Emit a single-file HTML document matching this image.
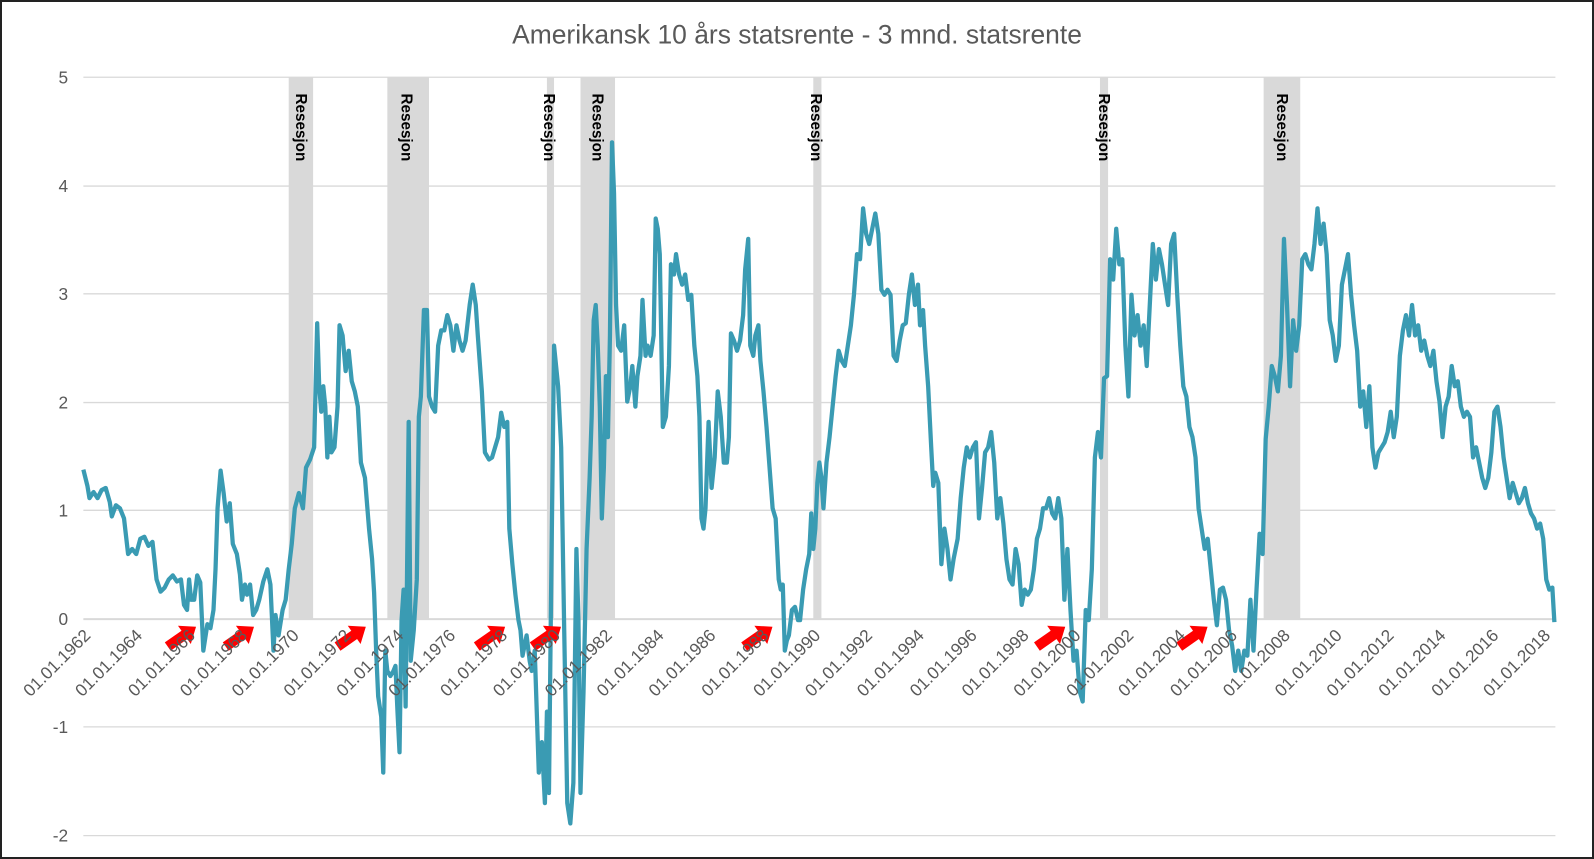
<!DOCTYPE html>
<html><head><meta charset="utf-8"><style>
html,body{margin:0;padding:0;background:#fff}
svg{display:block;font-family:"Liberation Sans",sans-serif}
</style></head><body>
<svg width="1594" height="859" viewBox="0 0 1594 859" xmlns="http://www.w3.org/2000/svg">
<rect x="1" y="1" width="1592" height="857" fill="#fff" stroke="#222" stroke-width="2"/>
<g transform="scale(1.0166)">
<text x="784" y="43" text-anchor="middle" font-size="26" fill="#595959">Amerikansk 10 års statsrente - 3 mnd. statsrente</text>
<g fill="#d9d9d9">
<rect x="284" y="76" width="24" height="533"/>
<rect x="381" y="76" width="41" height="533"/>
<rect x="538" y="76" width="7" height="533"/>
<rect x="571" y="76" width="34" height="533"/>
<rect x="800" y="76" width="8" height="533"/>
<rect x="1082" y="76" width="8" height="533"/>
<rect x="1243" y="76" width="36" height="533"/>
</g>
<g stroke="#d9d9d9" stroke-width="1.3">
<line x1="82" y1="76" x2="1530" y2="76"/><line x1="82" y1="183" x2="1530" y2="183"/>
<line x1="82" y1="289" x2="1530" y2="289"/><line x1="82" y1="396" x2="1530" y2="396"/>
<line x1="82" y1="502" x2="1530" y2="502"/><line x1="82" y1="715" x2="1530" y2="715"/>
<line x1="82" y1="822" x2="1530" y2="822"/>
<line x1="82" y1="609" x2="1530" y2="609" stroke-width="2"/>
</g>
<g font-size="17" fill="#595959" text-anchor="end">
<text x="67" y="82">5</text><text x="67" y="189">4</text><text x="67" y="295">3</text>
<text x="67" y="402">2</text><text x="67" y="508">1</text><text x="67" y="615">0</text>
<text x="67" y="721">-1</text><text x="67" y="828">-2</text>
</g>
<g font-size="15" fill="#000" font-weight="bold">
<text transform="translate(291,92) rotate(90)">Resesjon</text>
<text transform="translate(395,92) rotate(90)">Resesjon</text>
<text transform="translate(535,92) rotate(90)">Resesjon</text>
<text transform="translate(583,92) rotate(90)">Resesjon</text>
<text transform="translate(798,92) rotate(90)">Resesjon</text>
<text transform="translate(1081,92) rotate(90)">Resesjon</text>
<text transform="translate(1256,92) rotate(90)">Resesjon</text>
</g>
<polyline fill="none" stroke="#3a9bb3" stroke-width="4.2" stroke-linejoin="round" points="82,462 86,478 88,490 92,484 96,490 100,482 104,480 108,494 110,508 114,497 118,500 122,510 126,545 130,540 134,545 138,530 142,528 146,537 150,533 154,570 158,582 162,578 166,570 170,566 174,572 178,570 181,595 184,600 186,570 188,590 191,590 194,566 197,573 200,640 204,614 207,618 210,600 212,560 214,500 217,463 220,485 223,513 226,495 229,535 233,545 236,565 238,590 241,575 243,585 246,575 249,605 252,600 255,590 259,572 263,560 266,575 269,640 271,605 274,625 278,600 281,590 284,560 287,535 290,500 294,485 298,500 301,460 305,452 309,440 312,318 314,380 316,405 318,380 320,400 322,450 324,410 326,445 329,440 332,400 334,320 337,330 340,365 343,345 346,375 349,385 352,400 355,455 359,470 363,520 366,550 368,583 370,640 372,685 375,705 377,760 379,640 381,660 384,665 387,660 389,655 391,700 393,740 395,610 397,580 399,695 402,415 404,650 407,620 410,570 412,410 414,390 417,305 420,305 422,390 425,400 428,405 431,340 434,325 437,325 440,310 443,320 446,345 449,320 452,335 455,345 458,335 462,300 465,280 468,300 470,330 474,385 477,445 481,452 484,450 487,440 490,430 493,406 496,420 499,415 501,520 504,555 507,585 510,610 512,620 514,645 516,635 518,625 521,650 523,660 526,640 530,760 533,730 536,790 538,700 540,780 542,590 545,340 547,360 549,380 552,440 555,620 558,790 561,810 564,770 567,540 569,610 571,780 574,680 577,540 580,470 582,410 584,315 586,300 588,340 590,400 592,510 594,460 596,370 598,430 600,330 602,140 604,190 606,300 608,340 611,345 614,320 617,395 620,380 622,360 625,400 627,370 630,350 632,295 635,350 637,340 640,350 643,330 645,215 647,225 649,250 652,420 655,410 658,360 660,260 663,270 665,250 668,270 671,280 674,270 677,295 680,290 683,340 686,370 688,410 690,510 692,520 694,500 697,415 700,480 703,450 706,385 709,410 712,455 715,455 717,430 719,328 722,335 725,345 728,335 731,310 733,265 736,235 738,340 741,350 743,330 746,320 748,355 751,385 754,420 757,460 760,500 763,510 766,570 768,580 770,575 772,640 774,630 776,625 779,600 782,597 785,610 787,610 790,580 793,560 796,545 798,505 800,540 802,520 804,475 806,455 808,470 810,500 813,455 816,430 819,400 822,370 825,345 828,355 831,360 834,340 837,320 840,290 843,250 846,255 849,205 852,230 855,240 858,225 861,210 864,230 867,285 870,290 873,285 876,290 879,350 882,355 885,335 888,320 891,318 894,290 897,270 900,300 903,280 905,320 908,305 910,340 913,380 916,440 918,478 920,465 923,475 926,555 929,520 932,540 935,570 938,550 942,530 945,490 948,460 951,440 954,450 957,440 960,435 963,510 966,480 969,445 972,440 975,425 978,455 981,510 984,490 987,515 990,550 993,570 996,575 999,540 1002,555 1005,595 1008,580 1011,585 1014,580 1017,560 1020,530 1023,520 1026,500 1029,500 1032,490 1035,505 1038,510 1041,490 1044,510 1047,590 1050,540 1053,600 1056,650 1059,640 1062,680 1065,690 1068,600 1071,610 1074,560 1077,450 1080,425 1083,450 1086,372 1089,370 1092,255 1095,275 1098,225 1101,260 1104,255 1107,340 1110,390 1113,290 1116,330 1119,310 1122,340 1125,320 1128,360 1131,300 1134,240 1137,275 1140,245 1143,260 1146,280 1149,300 1152,240 1155,230 1158,290 1161,340 1164,380 1167,390 1170,420 1173,430 1176,450 1179,500 1182,520 1185,540 1188,530 1191,560 1194,590 1197,615 1200,580 1203,578 1206,590 1209,620 1212,635 1215,660 1218,640 1221,660 1224,640 1227,645 1230,590 1233,640 1236,580 1239,525 1242,545 1245,432 1248,400 1251,360 1254,370 1257,385 1260,350 1263,235 1266,300 1269,380 1272,315 1275,345 1278,320 1281,255 1284,250 1287,260 1290,265 1293,240 1296,205 1299,240 1302,220 1305,250 1308,315 1311,330 1314,355 1317,340 1320,280 1323,265 1326,250 1329,290 1332,320 1335,345 1338,400 1341,385 1344,420 1347,380 1350,440 1353,460 1356,445 1359,440 1362,435 1365,425 1368,405 1371,430 1374,410 1377,350 1380,325 1383,310 1386,330 1389,300 1392,330 1395,320 1398,345 1401,335 1404,350 1407,360 1410,345 1413,375 1416,395 1419,430 1422,400 1425,390 1428,360 1431,380 1434,375 1437,400 1440,410 1443,405 1446,410 1449,450 1452,440 1455,455 1458,470 1461,480 1464,470 1467,445 1470,405 1473,400 1476,420 1479,450 1482,470 1485,490 1488,475 1491,485 1494,495 1497,490 1500,480 1503,495 1506,505 1509,510 1512,520 1515,515 1518,530 1521,570 1524,580 1527,578 1529,612"/>
<g fill="#ff0000">
<g transform="translate(165,636) rotate(-35)"><rect x="0" y="-5" width="22" height="10"/><polygon points="20,-11 34,0 20,11"/></g>
<g transform="translate(222,636) rotate(-35)"><rect x="0" y="-5" width="22" height="10"/><polygon points="20,-11 34,0 20,11"/></g>
<g transform="translate(332,636) rotate(-35)"><rect x="0" y="-5" width="22" height="10"/><polygon points="20,-11 34,0 20,11"/></g>
<g transform="translate(469,636) rotate(-35)"><rect x="0" y="-5" width="22" height="10"/><polygon points="20,-11 34,0 20,11"/></g>
<g transform="translate(524,636) rotate(-35)"><rect x="0" y="-5" width="22" height="10"/><polygon points="20,-11 34,0 20,11"/></g>
<g transform="translate(732,636) rotate(-35)"><rect x="0" y="-5" width="22" height="10"/><polygon points="20,-11 34,0 20,11"/></g>
<g transform="translate(1020,636) rotate(-35)"><rect x="0" y="-5" width="22" height="10"/><polygon points="20,-11 34,0 20,11"/></g>
<g transform="translate(1160,636) rotate(-35)"><rect x="0" y="-5" width="22" height="10"/><polygon points="20,-11 34,0 20,11"/></g>
</g>
<g font-size="17" fill="#595959" text-anchor="end">
<text transform="translate(90,626) rotate(-45)">01.01.1962</text>
<text transform="translate(141,626) rotate(-45)">01.01.1964</text>
<text transform="translate(193,626) rotate(-45)">01.01.1966</text>
<text transform="translate(244,626) rotate(-45)">01.01.1968</text>
<text transform="translate(295,626) rotate(-45)">01.01.1970</text>
<text transform="translate(346,626) rotate(-45)">01.01.1972</text>
<text transform="translate(398,626) rotate(-45)">01.01.1974</text>
<text transform="translate(449,626) rotate(-45)">01.01.1976</text>
<text transform="translate(500,626) rotate(-45)">01.01.1978</text>
<text transform="translate(552,626) rotate(-45)">01.01.1980</text>
<text transform="translate(603,626) rotate(-45)">01.01.1982</text>
<text transform="translate(654,626) rotate(-45)">01.01.1984</text>
<text transform="translate(705,626) rotate(-45)">01.01.1986</text>
<text transform="translate(757,626) rotate(-45)">01.01.1988</text>
<text transform="translate(808,626) rotate(-45)">01.01.1990</text>
<text transform="translate(859,626) rotate(-45)">01.01.1992</text>
<text transform="translate(910,626) rotate(-45)">01.01.1994</text>
<text transform="translate(962,626) rotate(-45)">01.01.1996</text>
<text transform="translate(1013,626) rotate(-45)">01.01.1998</text>
<text transform="translate(1064,626) rotate(-45)">01.01.2000</text>
<text transform="translate(1116,626) rotate(-45)">01.01.2002</text>
<text transform="translate(1167,626) rotate(-45)">01.01.2004</text>
<text transform="translate(1218,626) rotate(-45)">01.01.2006</text>
<text transform="translate(1270,626) rotate(-45)">01.01.2008</text>
<text transform="translate(1321,626) rotate(-45)">01.01.2010</text>
<text transform="translate(1372,626) rotate(-45)">01.01.2012</text>
<text transform="translate(1423,626) rotate(-45)">01.01.2014</text>
<text transform="translate(1475,626) rotate(-45)">01.01.2016</text>
<text transform="translate(1526,626) rotate(-45)">01.01.2018</text>
</g>
</g>
</svg>
</body></html>
